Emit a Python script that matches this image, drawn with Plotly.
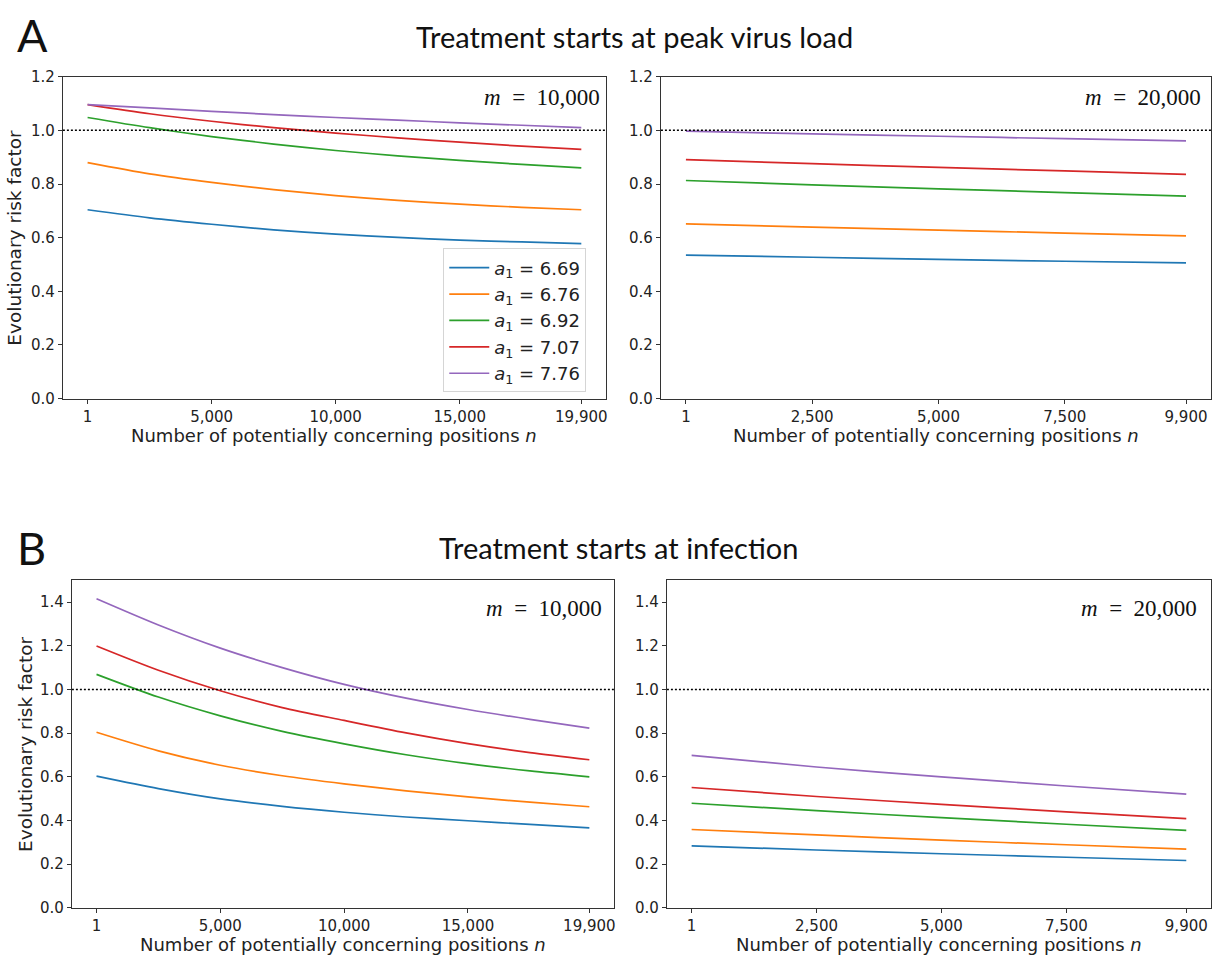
import plotly.graph_objects as go

W, H = 1221, 966

# ---- data -------------------------------------------------------------
a1_values = ["6.69", "6.76", "6.92", "7.07", "7.76"]
line_colors = ["#1f77b4", "#ff7f0e", "#2ca02c", "#d62728", "#9467bd"]

n_m10 = [1, 2500, 5000, 7500, 10000, 12500, 15000, 17500, 19900]
n_m20 = [1, 2500, 5000, 7500, 9900]

# A: treatment starts at peak virus load, m = 10,000
peak_m10_a669 = [0.704, 0.674, 0.650, 0.629, 0.613, 0.601, 0.591, 0.584, 0.578]
peak_m10_a676 = [0.880, 0.838, 0.806, 0.779, 0.757, 0.739, 0.725, 0.713, 0.704]
peak_m10_a692 = [1.048, 1.010, 0.977, 0.949, 0.925, 0.905, 0.888, 0.873, 0.860]
peak_m10_a707 = [1.096, 1.062, 1.034, 1.010, 0.990, 0.972, 0.956, 0.941, 0.929]
peak_m10_a776 = [1.096, 1.084, 1.071, 1.059, 1.048, 1.038, 1.028, 1.019, 1.010]

# A: treatment starts at peak virus load, m = 20,000
peak_m20_a669 = [0.535, 0.527, 0.519, 0.512, 0.506]
peak_m20_a676 = [0.651, 0.639, 0.628, 0.617, 0.607]
peak_m20_a692 = [0.813, 0.797, 0.782, 0.768, 0.755]
peak_m20_a707 = [0.891, 0.876, 0.862, 0.849, 0.836]
peak_m20_a776 = [0.997, 0.987, 0.978, 0.969, 0.961]

# B: treatment starts at infection, m = 10,000
inf_m10_a669 = [0.603, 0.546, 0.499, 0.465, 0.438, 0.416, 0.399, 0.382, 0.366]
inf_m10_a676 = [0.804, 0.719, 0.653, 0.605, 0.568, 0.536, 0.508, 0.484, 0.463]
inf_m10_a692 = [1.069, 0.965, 0.879, 0.808, 0.751, 0.701, 0.660, 0.627, 0.600]
inf_m10_a707 = [1.199, 1.088, 0.994, 0.917, 0.858, 0.801, 0.752, 0.711, 0.678]
inf_m10_a776 = [1.415, 1.295, 1.189, 1.100, 1.023, 0.960, 0.908, 0.863, 0.823]

# B: treatment starts at infection, m = 20,000
inf_m20_a669 = [0.284, 0.265, 0.248, 0.232, 0.217]
inf_m20_a676 = [0.359, 0.334, 0.310, 0.289, 0.269]
inf_m20_a692 = [0.479, 0.445, 0.413, 0.383, 0.355]
inf_m20_a707 = [0.551, 0.510, 0.474, 0.440, 0.409]
inf_m20_a776 = [0.698, 0.645, 0.600, 0.558, 0.521]

x_ticks_m10 = [1, 5000, 10000, 15000, 19900]
x_ticktext_m10 = ["1", "5,000", "10,000", "15,000", "19,900"]
x_ticks_m20 = [1, 2500, 5000, 7500, 9900]
x_ticktext_m20 = ["1", "2,500", "5,000", "7,500", "9,900"]

panels = [
    # (axis suffix, n values, series, m label)
    ("", n_m10, [peak_m10_a669, peak_m10_a676, peak_m10_a692, peak_m10_a707, peak_m10_a776], "10,000"),
    ("2", n_m20, [peak_m20_a669, peak_m20_a676, peak_m20_a692, peak_m20_a707, peak_m20_a776], "20,000"),
    ("3", n_m10, [inf_m10_a669, inf_m10_a676, inf_m10_a692, inf_m10_a707, inf_m10_a776], "10,000"),
    ("4", n_m20, [inf_m20_a669, inf_m20_a676, inf_m20_a692, inf_m20_a707, inf_m20_a776], "20,000"),
]

# ---- layout geometry (pixels) ----------------------------------------
def px_x(p):
    return p / W


def px_y(p):
    return 1 - p / H


# frame: left, right, top, bottom; m-label inset (right, down); x-title offset below frame
frames = {
    "": (63, 607, 69, 397, 4, 21, 38),
    "2": (662, 1213, 69, 397, 8, 21, 38),
    "3": (72, 615, 582, 916, 10, 29, 37),
    "4": (668, 1213, 582, 916, 12, 29, 37),
}

tick_font = dict(family="DejaVu Sans", size=15, color="#222")
xlabel_font = dict(family="DejaVu Sans", size=18, color="#222")
ylabel_font = dict(family="DejaVu Sans", size=18.5, color="#222")

fig = go.Figure()

for suffix, n_vals, series, m_lab in panels:
    xa = "x" + suffix
    ya = "y" + suffix
    for i, ys in enumerate(series):
        fig.add_trace(go.Scatter(
            x=n_vals, y=ys, mode="lines",
            line=dict(color=line_colors[i], width=1.7, shape="spline", smoothing=0.8),
            name=f"<i>a</i><sub>1</sub> = {a1_values[i]}",
            showlegend=(suffix == ""),
            xaxis=xa, yaxis=ya,
            hoverinfo="skip",
        ))

layout = dict(
    width=W, height=H,
    margin=dict(l=0, r=0, t=0, b=0),
    paper_bgcolor="white",
    plot_bgcolor="white",
    showlegend=True,
    legend=dict(
        x=px_x(444), y=px_y(244), xanchor="left", yanchor="top",
        bgcolor="white", bordercolor="#d5d5d5", borderwidth=1,
        font=dict(family="DejaVu Sans", size=18, color="#222"),
        itemwidth=40,
    ),
)

shapes = []
annotations = []

for suffix, n_vals, series, m_lab in panels:
    x0, x1, y0, y1, m_dx, m_dy, t_dy = frames[suffix]
    is_m10 = n_vals[-1] == 19900
    pad = 0.05 * (n_vals[-1] - n_vals[0])
    top = suffix in ("", "2")
    layout["xaxis" + suffix] = dict(
        domain=[px_x(x0), px_x(x1)],
        anchor="y" + suffix,
        range=[n_vals[0] - pad, n_vals[-1] + pad],
        tickvals=x_ticks_m10 if is_m10 else x_ticks_m20,
        ticktext=x_ticktext_m10 if is_m10 else x_ticktext_m20,
        showline=True, mirror=True, linecolor="#333", linewidth=1,
        ticks="outside", ticklen=4, tickcolor="#333",
        showgrid=False, zeroline=False,
        tickfont=tick_font,
    )
    layout["yaxis" + suffix] = dict(
        domain=[px_y(y1), px_y(y0)],
        anchor="x" + suffix,
        range=[0, 1.2] if top else [0, 1.5],
        tickvals=[0, 0.2, 0.4, 0.6, 0.8, 1.0, 1.2] if top else [0, 0.2, 0.4, 0.6, 0.8, 1.0, 1.2, 1.4],
        tickformat=".1f",
        showline=True, mirror=True, linecolor="#333", linewidth=1,
        ticks="outside", ticklen=4, tickcolor="#333",
        showgrid=False, zeroline=False,
        tickfont=tick_font,
    )
    # reference level of 1.0
    shapes.append(dict(
        type="line", xref=f"x{suffix} domain", yref="y" + suffix,
        x0=0, x1=1, y0=1.0, y1=1.0,
        line=dict(color="black", width=1.5, dash="2px,2px"),
    ))
    # m label
    annotations.append(dict(
        x=px_x(x1 - m_dx), y=px_y(y0 + m_dy), xref="paper", yref="paper",
        xanchor="right", yanchor="middle", showarrow=False,
        text=f"<i>m</i>\u2002=\u2002{m_lab}",
        font=dict(family="Liberation Serif", size=23, color="#111"),
    ))
    # x axis title
    annotations.append(dict(
        x=px_x((x0 + x1) / 2), y=px_y(y1 + t_dy), xref="paper", yref="paper",
        xanchor="center", yanchor="middle", showarrow=False,
        text="Number of potentially concerning positions <i>n</i>",
        font=xlabel_font,
    ))

# y axis titles (left panels only)
annotations.append(dict(
    x=px_x(15), y=px_y(233), xref="paper", yref="paper",
    xanchor="center", yanchor="middle", showarrow=False, textangle=-90,
    text="Evolutionary risk factor", font=ylabel_font,
))
annotations.append(dict(
    x=px_x(25), y=px_y(749), xref="paper", yref="paper",
    xanchor="center", yanchor="middle", showarrow=False, textangle=-90,
    text="Evolutionary risk factor", font=ylabel_font,
))

# panel letters and headings
head_font = dict(family="Lato", size=29, color="#111")
letter_font = dict(family="Lato", size=45, color="#111")
annotations += [
    dict(x=px_x(33), y=px_y(27), xref="paper", yref="paper", showarrow=False,
         xanchor="center", yanchor="middle", text="A", font=letter_font),
    dict(x=px_x(636), y=px_y(28), xref="paper", yref="paper", showarrow=False,
         xanchor="center", yanchor="middle", text="Treatment starts at peak virus load", font=head_font),
    dict(x=px_x(32), y=px_y(549), xref="paper", yref="paper", showarrow=False,
         xanchor="center", yanchor="middle", text="B", font=letter_font),
    dict(x=px_x(620), y=px_y(549), xref="paper", yref="paper", showarrow=False,
         xanchor="center", yanchor="middle", text="Treatment starts at infection", font=head_font),
]

layout["shapes"] = shapes
layout["annotations"] = annotations
fig.update_layout(**layout)

fig.write_html("out.html")
